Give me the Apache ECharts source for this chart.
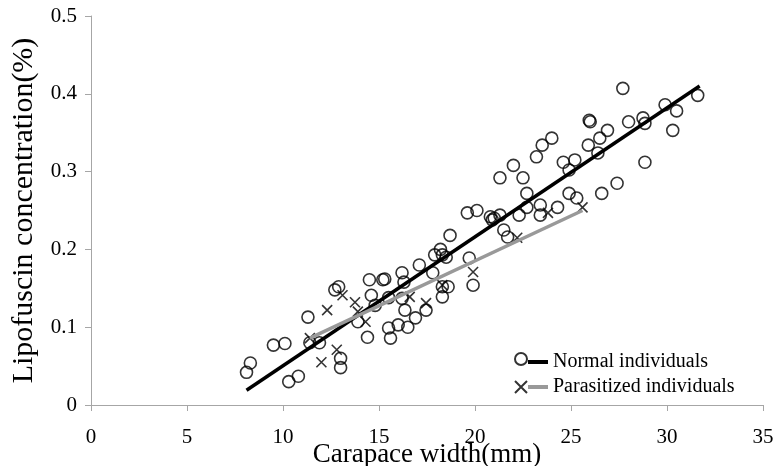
<!DOCTYPE html>
<html><head><meta charset="utf-8">
<script src="https://cdn.jsdelivr.net/npm/echarts@6/dist/echarts.min.js"></script>
<style>html,body{margin:0;padding:0;background:#fff}#c{width:775px;height:466px}</style>
</head><body><div id="c"></div>
<script>
// Normal individuals: [carapace width (mm), lipofuscin (%)]
const normalPoints = [
  [8.1,0.042],[8.3,0.054],[9.5,0.077],[10.1,0.079],[10.3,0.030],[10.8,0.037],
  [11.3,0.113],[11.4,0.080],[11.9,0.080],[12.7,0.148],[12.9,0.152],[13.0,0.060],[13.0,0.048],
  [13.9,0.107],[14.4,0.087],[14.5,0.161],[14.6,0.141],[14.8,0.128],[15.2,0.161],[15.3,0.162],
  [15.5,0.138],[15.5,0.099],[15.6,0.086],[16.0,0.103],[16.5,0.100],[16.2,0.170],[16.3,0.158],
  [16.2,0.137],[16.35,0.122],[16.9,0.112],[17.1,0.180],[17.45,0.122],[17.8,0.170],[17.9,0.193],
  [18.2,0.200],[18.3,0.193],[18.5,0.190],[18.3,0.152],[18.6,0.152],[18.3,0.139],[18.7,0.218],
  [19.7,0.189],[19.9,0.154],[19.6,0.247],[20.1,0.250],[20.8,0.242],[20.9,0.238],[21.0,0.240],
  [21.3,0.244],[21.5,0.225],[21.7,0.216],[22.3,0.244],[22.7,0.272],[22.7,0.254],[23.4,0.257],
  [23.4,0.244],[24.3,0.254],[24.9,0.272],[25.3,0.266],[21.3,0.292],[22.0,0.308],[22.5,0.292],
  [23.2,0.319],[23.5,0.334],[24.0,0.343],[24.6,0.312],[24.9,0.302],[25.2,0.315],
  [26.0,0.364],[25.95,0.366],[25.9,0.334],[26.5,0.343],[26.9,0.353],[26.4,0.324],[26.6,0.272],
  [27.4,0.285],[27.7,0.407],[28.0,0.364],[28.75,0.369],[28.85,0.362],[29.9,0.386],[30.5,0.378],
  [31.6,0.398],[30.3,0.353],[28.85,0.312]
];
// Parasitized individuals
const parasitizedPoints = [
  [11.4,0.086],[12.3,0.122],[12.0,0.055],[12.8,0.071],[13.1,0.141],[13.75,0.132],[13.9,0.120],
  [14.3,0.107],[16.6,0.139],[17.45,0.131],[18.3,0.154],[19.9,0.171],[22.2,0.215],[23.8,0.247],[25.6,0.254]
];
// Regression line endpoints
const normalFit = [[8.1,0.019],[31.7,0.410]];
const parasitizedFit = [[11.4,0.086],[25.6,0.250]];
const xTicks = {min:0,max:35,interval:5};
const yTicks = {min:0,max:0.5,interval:0.1};

const FONT = '"Liberation Serif","Times New Roman",serif';
const chart = echarts.init(document.getElementById('c'));
const crossPath = 'path://M0,0L10,10M10,0L0,10';
chart.setOption({
  animation:false,
  grid:{left:91,right:12,top:16,bottom:61,containLabel:false,outerBoundsMode:'none'},
  xAxis:{type:'value',min:xTicks.min,max:xTicks.max,interval:xTicks.interval,
    name:'Carapace width(mm)',nameLocation:'middle',nameGap:36,nameMoveOverlap:false,
    nameTextStyle:{fontFamily:FONT,fontSize:27,color:'#000'},
    axisLine:{lineStyle:{color:'#a6a6a6',width:1}},
    axisTick:{show:true,length:6,lineStyle:{color:'#a6a6a6'}},
    axisLabel:{fontFamily:FONT,fontSize:21,color:'#000',margin:22},
    splitLine:{show:false}},
  yAxis:{type:'value',min:yTicks.min,max:yTicks.max,interval:yTicks.interval,
    name:'Lipofuscin concentration(%)',nameLocation:'middle',nameGap:52,nameMoveOverlap:false,
    nameTextStyle:{fontFamily:FONT,fontSize:30,color:'#000'},
    axisLine:{show:true,lineStyle:{color:'#a6a6a6',width:1}},
    axisTick:{show:true,length:6,lineStyle:{color:'#a6a6a6'}},
    axisLabel:{fontFamily:FONT,fontSize:21,color:'#000',margin:14,
      formatter:v=>v===0?'0':v.toFixed(1)},
    splitLine:{show:false}},
  legend:[
    {orient:'vertical',left:509,top:347,itemGap:14,itemWidth:12,itemHeight:12,
     data:['Normal pts','Parasitized pts'],formatter:()=>'',
     textStyle:{fontSize:1},selectedMode:false},
    {orient:'vertical',left:523,top:347,itemGap:5,itemWidth:20,itemHeight:4,icon:'rect',
     data:['Normal individuals','Parasitized individuals'],selectedMode:false,
     textStyle:{fontFamily:FONT,fontSize:20,color:'#000'}}
  ],
  series:[
    {name:'Normal pts',type:'scatter',data:normalPoints,symbol:'circle',symbolSize:12,
     itemStyle:{color:'rgba(0,0,0,0)',borderColor:'#000',borderWidth:1.6}},
    {name:'Parasitized pts',type:'scatter',data:parasitizedPoints,symbol:crossPath,symbolSize:10,
     itemStyle:{color:'rgba(0,0,0,0)',borderColor:'#000',borderWidth:1.6}},
    {name:'Normal individuals',type:'line',data:normalFit,symbol:'none',
     lineStyle:{color:'#000',width:3.5},itemStyle:{color:'#000'}},
    {name:'Parasitized individuals',type:'line',data:parasitizedFit,symbol:'none',
     lineStyle:{color:'#999',width:3.5},itemStyle:{color:'#999'}}
  ]
});
</script></body></html>
